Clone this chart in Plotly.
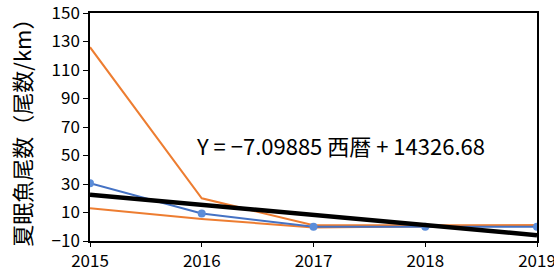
import plotly.graph_objects as go

years = [2015, 2016, 2017, 2018, 2019]
blue_vals = [30.5, 9.3, 0, 0, 0]
orange_a_vals = [126, 20, 1, 1, 1]
orange_b_vals = [13, 5.5, -0.5, 0.5, 1]
trend_years = [2015, 2019]
trend_vals = [22.5, -5.9]
y_ticks = [-10, 10, 30, 50, 70, 90, 110, 130, 150]
equation_text = "Y = −7.09885 西暦 + 14326.68"
y_title = "夏眠魚尾数（尾数/km）"

FONT = "Noto Sans CJK JP"

fig = go.Figure()
fig.add_trace(go.Scatter(x=years, y=orange_a_vals, mode="lines",
                         line=dict(color="#ED7D31", width=2)))
fig.add_trace(go.Scatter(x=years, y=orange_b_vals, mode="lines",
                         line=dict(color="#ED7D31", width=2)))
fig.add_trace(go.Scatter(x=years, y=blue_vals, mode="lines+markers",
                         line=dict(color="#4472C4", width=2),
                         marker=dict(color="#5B8DD9", size=8)))
fig.add_trace(go.Scatter(x=trend_years, y=trend_vals, mode="lines",
                         line=dict(color="black", width=4.5)))

fig.add_annotation(x=2017.24, y=57.5, xref="x", yref="y", text=equation_text,
                   showarrow=False, font=dict(family=FONT, size=22, color="black"))

fig.add_annotation(x=-0.155, y=0.5, xref="paper", yref="paper", text=y_title,
                   textangle=-90, showarrow=False, xanchor="center", yanchor="middle",
                   font=dict(family=FONT, size=22, color="black"))

fig.update_layout(
    width=554, height=269,
    margin=dict(l=90, r=17, t=13, b=28),
    paper_bgcolor="white", plot_bgcolor="white",
    showlegend=False,
    font=dict(family=FONT, color="black"),
)
fig.update_xaxes(range=[2015, 2019], tickvals=years, ticktext=[str(y) for y in years],
                 showgrid=False, zeroline=False, showline=True, linecolor="black",
                 linewidth=1.5, mirror=True, ticks="outside", ticklen=4,
                 tickcolor="black", automargin=False, ticklabeloverflow="allow",
                 tickfont=dict(size=17, family=FONT, color="black"))
fig.update_yaxes(range=[-10, 150], tickvals=y_ticks,
                 ticktext=[("−10" if v < 0 else str(v)) for v in y_ticks],
                 showgrid=False, zeroline=False, showline=True, linecolor="black",
                 linewidth=1.5, mirror=True, ticks="outside", ticklen=5,
                 tickcolor="black", automargin=False, ticklabeloverflow="allow",
                 tickfont=dict(size=17, family=FONT, color="black"))

fig.write_html("out.html", config={"displayModeBar": False},
               post_script="document.body.style.margin='0';document.body.style.overflow='hidden';")
